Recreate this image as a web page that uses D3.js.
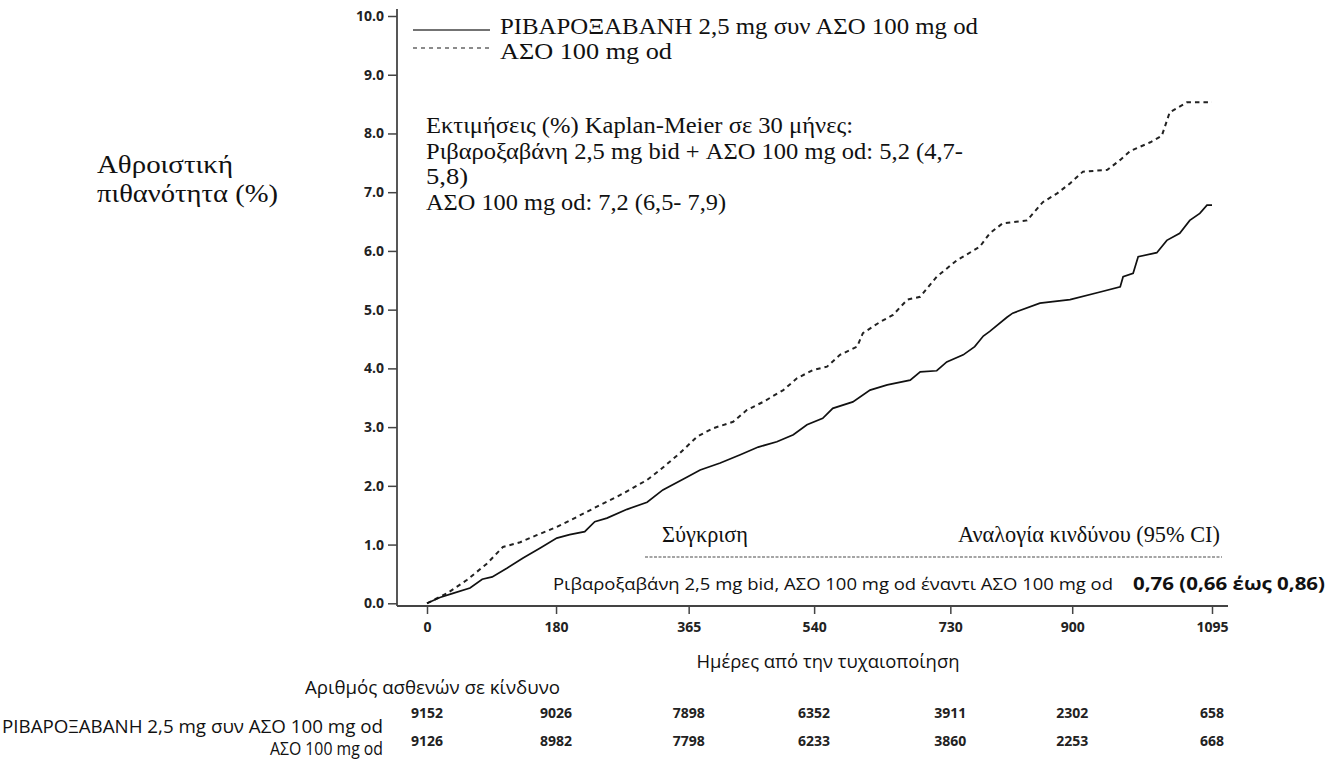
<!DOCTYPE html>
<html>
<head>
<meta charset="utf-8">
<script src="https://cdn.jsdelivr.net/npm/d3@7"></script>
<style>
  html, body { margin: 0; padding: 0; background: #fff; }
  svg { display: block; }
  .serif { font-family: "Liberation Serif", "DejaVu Serif", serif; fill: #111; }
  .sans { font-family: "Liberation Sans Narrow", "Open Sans", "Noto Sans", sans-serif; fill: #111; }
  .num { font-family: "Open Sans", "Noto Sans", sans-serif; font-weight: bold; fill: #222; }
  .tick text { font-family: "Open Sans", "Noto Sans", sans-serif; font-weight: bold; font-size: 14px; fill: #222; }
</style>
</head>
<body>
<div id="chart"></div>
<script>
// Kaplan-Meier curves (days, cumulative %)
const rivaDays = [0, 18, 36, 60, 77, 91, 112, 134, 158, 181, 199, 220, 234, 251, 279, 307, 329, 363, 381, 409, 437,
  462, 488, 511, 530, 552, 566, 594, 618, 642, 674, 688, 711, 725, 748, 764, 776, 785, 809, 817, 855, 897, 939,
  967, 971, 985, 992, 1018, 1032, 1050, 1064, 1078, 1088, 1095];
const rivaPct = [0, 0.10, 0.17, 0.26, 0.41, 0.45, 0.60, 0.77, 0.94, 1.11, 1.17, 1.22, 1.39, 1.45, 1.60, 1.72, 1.93,
  2.15, 2.27, 2.39, 2.53, 2.66, 2.75, 2.87, 3.04, 3.15, 3.32, 3.43, 3.63, 3.72, 3.80, 3.94, 3.96, 4.11, 4.23, 4.37,
  4.55, 4.63, 4.87, 4.94, 5.11, 5.17, 5.30, 5.39, 5.56, 5.62, 5.90, 5.97, 6.18, 6.30, 6.52, 6.64, 6.78, 6.78];

const asaDays = [0, 28, 56, 84, 106, 130, 153, 181, 209, 241, 269, 307, 325, 353, 377, 399, 427, 446, 469, 497, 516,
  538, 558, 576, 600, 608, 632, 650, 670, 688, 711, 739, 771, 785, 803, 837, 859, 879, 897, 915, 949, 967, 981,
  1009, 1025, 1036, 1060, 1095];
const asaPct = [0, 0.17, 0.40, 0.68, 0.96, 1.04, 1.16, 1.30, 1.47, 1.67, 1.84, 2.10, 2.27, 2.56, 2.84, 2.98, 3.09,
  3.29, 3.43, 3.63, 3.83, 3.97, 4.03, 4.23, 4.37, 4.60, 4.79, 4.91, 5.17, 5.22, 5.56, 5.84, 6.07, 6.30, 6.47, 6.52,
  6.83, 6.98, 7.15, 7.35, 7.38, 7.55, 7.70, 7.85, 7.96, 8.36, 8.53, 8.53];

const yTicks = [0, 1, 2, 3, 4, 5, 6, 7, 8, 9, 10];
const xTicks = [0, 180, 365, 540, 730, 900, 1095];
const riskRiva = [9152, 9026, 7898, 6352, 3911, 2302, 658];
const riskAsa = [9126, 8982, 7798, 6233, 3860, 2253, 668];

const seriesNames = ['ΡΙΒΑΡΟΞΑΒΑΝΗ 2,5 mg συν ΑΣΟ 100 mg od', 'ΑΣΟ 100 mg od'];
const kmLines = [
  'Εκτιμήσεις (%) Kaplan-Meier σε 30 μήνες:',
  'Ριβαροξαβάνη 2,5 mg bid + ΑΣΟ 100 mg od: 5,2 (4,7-',
  '5,8)',
  'ΑΣΟ 100 mg od: 7,2 (6,5- 7,9)'
];
const kmWidths = [427, 537, 42, 300];

const width = 1328, height = 762;
const svg = d3.select('#chart').append('svg')
  .attr('width', width)
  .attr('height', height);

const x = d3.scaleLinear().domain([0, 1095]).range([427, 1212]);
const y = d3.scaleLinear().domain([0, 10]).range([603.3, 16]);
const axisX = 397, axisY = 606;

// y axis
const yAxis = svg.append('g')
  .attr('transform', `translate(${axisX},0)`)
  .call(d3.axisLeft(y).tickValues(yTicks).tickFormat(d3.format('.1f')).tickSize(9).tickPadding(4))
  .call(g => g.select('.domain').remove());
yAxis.selectAll('.tick line').attr('stroke', '#444').attr('stroke-width', 1.5);
svg.append('line')
  .attr('x1', axisX).attr('x2', axisX).attr('y1', 9).attr('y2', axisY)
  .attr('stroke', '#444').attr('stroke-width', 1.8);

// x axis
const xAxis = svg.append('g')
  .attr('transform', `translate(0,${axisY})`)
  .call(d3.axisBottom(x).tickValues(xTicks).tickFormat(d3.format('d')).tickSize(8).tickPadding(8))
  .call(g => g.select('.domain').remove());
xAxis.selectAll('.tick line').attr('stroke', '#444').attr('stroke-width', 1.5);
svg.append('line')
  .attr('x1', axisX).attr('x2', 1228).attr('y1', axisY).attr('y2', axisY)
  .attr('stroke', '#444').attr('stroke-width', 1.8);

// curves
const line = d3.line()
  .x(d => x(d[0]))
  .y(d => y(d[1]));

svg.append('path')
  .datum(d3.zip(asaDays, asaPct))
  .attr('fill', 'none')
  .attr('stroke', '#222')
  .attr('stroke-width', 2)
  .attr('stroke-dasharray', '4.5,4')
  .attr('d', line);

svg.append('path')
  .datum(d3.zip(rivaDays, rivaPct))
  .attr('fill', 'none')
  .attr('stroke', '#111')
  .attr('stroke-width', 1.7)
  .attr('d', line);

// legend
const legend = svg.append('g');
legend.append('line').attr('x1', 413).attr('x2', 490).attr('y1', 30).attr('y2', 30)
  .attr('stroke', '#444').attr('stroke-width', 1.6);
legend.append('line').attr('x1', 413).attr('x2', 490).attr('y1', 48).attr('y2', 48)
  .attr('stroke', '#666').attr('stroke-width', 1.4).attr('stroke-dasharray', '4,4');
legend.selectAll('text').data(seriesNames).join('text')
  .attr('class', 'serif')
  .attr('x', 500)
  .attr('y', (d, i) => 34 + i * 25)
  .attr('font-size', 24)
  .attr('textLength', (d, i) => i === 0 ? 478 : 172)
  .attr('lengthAdjust', 'spacingAndGlyphs')
  .text(d => d);

// Kaplan-Meier estimates
svg.append('g').selectAll('text').data(kmLines).join('text')
  .attr('class', 'serif')
  .attr('x', 426)
  .attr('y', (d, i) => 133 + i * 25.6)
  .attr('font-size', 23)
  .attr('textLength', (d, i) => kmWidths[i])
  .attr('lengthAdjust', 'spacingAndGlyphs')
  .text(d => d);

// y axis title
svg.append('text').attr('class', 'serif').attr('x', 97).attr('y', 173).attr('font-size', 26)
  .attr('textLength', 136).attr('lengthAdjust', 'spacingAndGlyphs').text('Αθροιστική');
svg.append('text').attr('class', 'serif').attr('x', 97).attr('y', 202).attr('font-size', 26)
  .attr('textLength', 181).attr('lengthAdjust', 'spacingAndGlyphs').text('πιθανότητα (%)');

// faint remnant of the original rotated label
const clip = svg.append('clipPath').attr('id', 'remnant');
clip.append('rect').attr('x', 69).attr('y', 180).attr('width', 12).attr('height', 260);
svg.append('text')
  .attr('clip-path', 'url(#remnant)')
  .attr('class', 'num')
  .attr('transform', 'translate(78,418) rotate(-90)')
  .attr('font-size', 14)
  .attr('textLength', 215)
  .attr('lengthAdjust', 'spacingAndGlyphs')
  .text('Cumulative Probability (%)');

// comparison box
svg.append('text').attr('class', 'serif').attr('x', 662).attr('y', 542).attr('font-size', 23)
  .attr('textLength', 86).attr('lengthAdjust', 'spacingAndGlyphs').text('Σύγκριση');
svg.append('text').attr('class', 'serif').attr('x', 1220).attr('y', 542).attr('font-size', 23)
  .attr('text-anchor', 'end')
  .attr('textLength', 262).attr('lengthAdjust', 'spacingAndGlyphs')
  .text('Αναλογία κινδύνου (95% CI)');
svg.append('line').attr('x1', 645).attr('x2', 1222).attr('y1', 557).attr('y2', 557)
  .attr('stroke', '#888').attr('stroke-width', 1.3).attr('stroke-dasharray', '3,1.5');
svg.append('text').attr('class', 'sans').attr('x', 553).attr('y', 590).attr('font-size', 17)
  .attr('textLength', 560).attr('lengthAdjust', 'spacingAndGlyphs')
  .text('Ριβαροξαβάνη 2,5 mg bid, ΑΣΟ 100 mg od έναντι ΑΣΟ 100 mg od');
svg.append('text').attr('class', 'sans').attr('x', 1133).attr('y', 590).attr('font-size', 17)
  .attr('font-weight', 'bold')
  .attr('textLength', 192).attr('lengthAdjust', 'spacingAndGlyphs')
  .text('0,76 (0,66 έως 0,86)');

// x axis title
svg.append('text').attr('class', 'sans').attr('x', 828).attr('y', 668).attr('font-size', 19)
  .attr('text-anchor', 'middle')
  .attr('textLength', 263).attr('lengthAdjust', 'spacingAndGlyphs')
  .text('Ημέρες από την τυχαιοποίηση');

// numbers at risk
svg.append('text').attr('class', 'sans').attr('x', 305).attr('y', 694).attr('font-size', 19)
  .attr('textLength', 255).attr('lengthAdjust', 'spacingAndGlyphs')
  .text('Αριθμός ασθενών σε κίνδυνο');
svg.append('text').attr('class', 'sans').attr('x', 383).attr('y', 733).attr('font-size', 18)
  .attr('text-anchor', 'end')
  .attr('textLength', 381).attr('lengthAdjust', 'spacingAndGlyphs')
  .text(seriesNames[0]);
svg.append('text').attr('class', 'sans').attr('x', 383).attr('y', 755).attr('font-size', 18)
  .attr('text-anchor', 'end')
  .attr('textLength', 113).attr('lengthAdjust', 'spacingAndGlyphs')
  .text(seriesNames[1]);

[[riskRiva, 718], [riskAsa, 746]].forEach(([vals, ty]) => {
  svg.append('g').selectAll('text').data(vals).join('text')
    .attr('class', 'num')
    .attr('x', (d, i) => x(xTicks[i]))
    .attr('y', ty)
    .attr('text-anchor', 'middle')
    .attr('font-size', 14)
    .text(d => d);
});
</script>
</body>
</html>
